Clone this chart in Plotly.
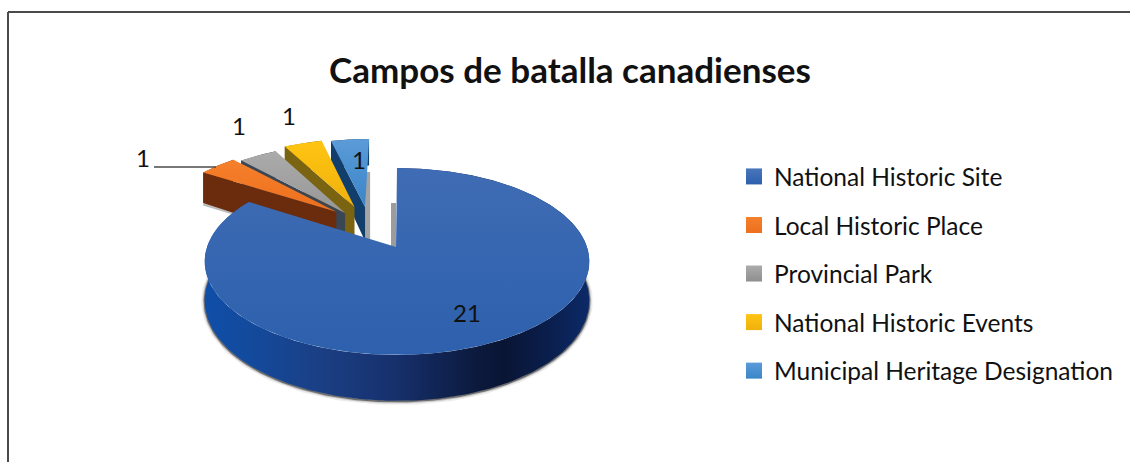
import numpy as np
import plotly.graph_objects as go

# ---- data ----
categories = ["National Historic Site", "Local Historic Place", "Provincial Park",
              "National Historic Events", "Municipal Heritage Designation"]
values = [21, 1, 1, 1, 1]
title_text = "Campos de batalla canadienses"

# ---- styling / projection constants ----
top_colors = [
    [[0, "#2d60ad"], [1, "#3f6cb4"]],
    [[0, "#ee6f1c"], [1, "#f5802c"]],
    [[0, "#979797"], [1, "#ababab"]],
    [[0, "#efb00c"], [1, "#ffc512"]],
    [[0, "#3a85c8"], [1, "#5b9bd8"]],
]
legend_colors = [("#4a76bb", "#2c5fad"), ("#f5802c", "#ee6f1c"), ("#ababab", "#8f8f8f"),
                 ("#ffc512", "#efb00c"), ("#5b9bd8", "#3a85c8")]
side_colors = ["#14295f", "#6a2c0c", "#3a4653", "#7a6412", "#123e6c"]
explode_uv = [(0.0, 0.0), (-0.34, 0.41), (-0.29, 0.396), (-0.24, 0.4706), (-0.18, 0.47)]
label_xy = [(467, 312), (143, 157), (239, 125), (289, 115), (359, 159)]
CX, CY, RX, RY, K = 397.0, 247.0, 190.0, 91.2, 0.155
SMALL_R = 0.98


def proj(u, v):
    s = 1 + K * v
    return CX + RX * u / s, CY - RY * v / s


def depth(v):
    return 38 - 8 * v


def arc(theta0, theta1, ou, ov, r, n=90):
    t = np.radians(np.linspace(theta0, theta1, n))
    return ou + r * np.sin(t), ov + r * np.cos(t)


def poly(x, y, **kw):
    return go.Scatter(x=list(x), y=list(y), mode="lines", fill="toself",
                      line=dict(width=0), hoverinfo="skip", showlegend=False, **kw)


def vert(cs):
    return dict(type="vertical", colorscale=cs)


fig = go.Figure()
total = sum(values)
edges = np.concatenate([[0], np.cumsum(values)]) / total * 360

# small exploded slices: far ones first, so each nearer slice overlaps the wall behind it
for i in range(len(values) - 1, 0, -1):
    a0, a1 = edges[i], edges[i + 1]
    ou, ov = explode_uv[i]
    au, av = arc(a0, a1, ou, ov, SMALL_R)
    tx, ty = proj(au, av)
    ax, ay = proj(ou, ov)
    dv = depth(ov)
    if i == 4:
        sx0, sy0 = proj(ou + SMALL_R * np.sin(np.radians(a1)), ov + SMALL_R * np.cos(np.radians(a1)))
        fig.add_trace(poly([ax, ax + 5, ax + 5, ax], [sy0 + 33, sy0 + 33, ay + dv, ay + dv],
                           fillcolor="rgba(90,90,90,0.55)"))
    if i == 1:
        fig.add_trace(go.Scatter(x=[tx[0], tx[0] + 30], y=[ty[0] + depth(av[0]) + 1, ty[0] + depth(av[0]) + 10],
                                 mode="lines", line=dict(color="rgba(120,120,120,0.5)", width=3),
                                 hoverinfo="skip", showlegend=False))
    # outer curved wall
    by = ty + depth(av)
    fig.add_trace(poly(np.r_[tx, tx[::-1]], np.r_[ty, by[::-1]], fillcolor=side_colors[i]))
    # radial wall on the lower-left edge
    fig.add_trace(poly([tx[0], ax, ax, tx[0]],
                       [ty[0], ay, ay + dv, ty[0] + depth(av[0])],
                       fillcolor=side_colors[i]))
    # top face
    fig.add_trace(poly(np.r_[ax, tx], np.r_[ay, ty], fillgradient=vert(top_colors[i])))

# main slice
a0, a1 = edges[0], edges[1]
au, av = arc(a0, a1, 0.0, 0.0, 1.0, n=400)
tx, ty = proj(au, av)
by = ty + depth(av)
# shadow next to the apex
fig.add_trace(poly([CX - 6, CX - 1, CX - 1, CX - 6], [CY - 44, CY - 44, CY, CY], fillcolor="rgba(90,90,90,0.6)"))
# soft ground shadow
ang = np.degrees(np.arctan2(au, av)) % 360
front = (ang > 85) & (ang < 290)
for w, c in [(7, "rgba(60,60,60,0.10)"), (4, "rgba(60,60,60,0.22)"), (2, "rgba(40,40,40,0.55)")]:
    fig.add_trace(go.Scatter(x=tx[front], y=by[front] + 0.5, mode="lines",
                             line=dict(color=c, width=w), hoverinfo="skip", showlegend=False))
fig.add_trace(poly(np.r_[tx, tx[::-1]], np.r_[ty, by[::-1]],
                   fillgradient=dict(type="horizontal", colorscale=[
                       [0, "#0f4ea8"], [0.12, "#134a9c"], [0.3, "#1b3f84"], [0.5, "#16306c"],
                       [0.7, "#0c1a3e"], [0.78, "#091534"], [0.9, "#0a1f4e"], [1, "#0c2a68"]])))
fig.add_trace(poly(np.r_[CX - 1, tx], np.r_[CY, ty], fillgradient=vert(top_colors[0])))

# legend entries
for i, name in enumerate(categories):
    fig.add_trace(go.Scatter(x=[None], y=[None], mode="markers", name=name, legendgroup=name,
                             marker=dict(symbol="square", size=16, color=legend_colors[i][0],
                                         gradient=dict(type="vertical", color=legend_colors[i][1])),
                             hoverinfo="skip"))

# value labels
for v, (lx, ly) in zip(values, label_xy):
    fig.add_annotation(x=lx, y=ly, text=str(v), showarrow=False, xref="x", yref="y",
                       font=dict(family="Lato", size=24, color="#111111"))

# leader line and frame
fig.add_shape(type="line", x0=154, x1=216, y0=167, y1=167, line=dict(color="#4a4a4a", width=1.5))
fig.add_shape(type="line", x0=8, x1=8, y0=12, y1=462, line=dict(color="#4a4a4a", width=2))
fig.add_shape(type="line", x0=8, x1=1130, y0=12, y1=12, line=dict(color="#4a4a4a", width=2))

fig.update_layout(
    width=1130, height=462, margin=dict(l=0, r=0, t=0, b=0),
    paper_bgcolor="white", plot_bgcolor="white",
    xaxis=dict(range=[0, 1130], visible=False, fixedrange=True),
    yaxis=dict(range=[462, 0], visible=False, fixedrange=True),
    title=dict(text=f"<b>{title_text}</b>", x=570 / 1130, y=1 - 71 / 462, xanchor="center",
               yanchor="middle", font=dict(family="Lato", size=35, color="#111111")),
    legend=dict(x=734 / 1130, y=1 - 154 / 462, xanchor="left", yanchor="top",
                tracegroupgap=13.7, font=dict(family="Lato", size=24.5, color="#111111"),
                bgcolor="rgba(0,0,0,0)", itemwidth=30),
)
fig.write_html("out.html", config={"displayModeBar": False},
               post_script="document.body.style.margin='0';")
